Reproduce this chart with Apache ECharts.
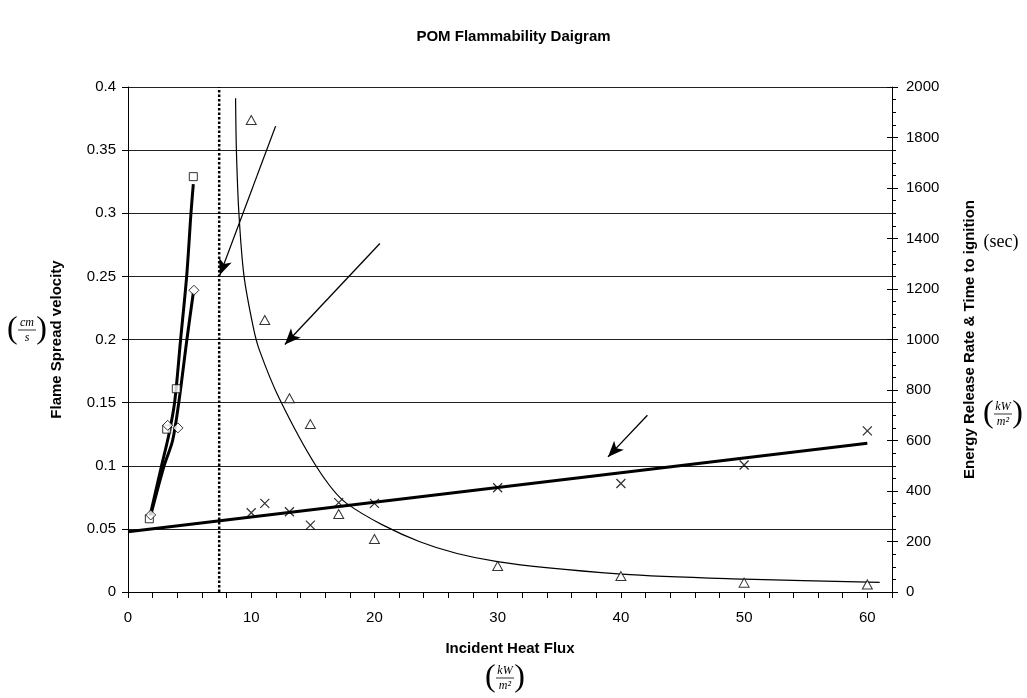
<!DOCTYPE html>
<html>
<head>
<meta charset="utf-8">
<script src="https://cdn.jsdelivr.net/npm/echarts@6/dist/echarts.min.js"></script>
<style>
  html, body { margin: 0; padding: 0; background: #fff; }
  #chart { width: 1027px; height: 698px; }
</style>
</head>
<body>
<div id="chart"></div>
<script>
// flame spread velocity (left axis, cm/s)
var squarePts = [[1.73, 0.058], [3.14, 0.129], [3.92, 0.161], [5.3, 0.329]];
var diamondPts = [[1.84, 0.061], [3.22, 0.132], [4.05, 0.130], [5.35, 0.239]];
var squareTrend = [[1.78, 0.06], [2.7, 0.099], [3.3, 0.124], [3.78, 0.15], [4.27, 0.2], [4.76, 0.25], [5.11, 0.3], [5.3, 0.323]];
var diamondTrend = [[1.85, 0.061], [2.9, 0.099], [3.62, 0.12], [4.12, 0.15], [4.78, 0.2], [5.3, 0.237]];

// energy release rate (right axis, kW/m2)
var hrrPts = [[10, 314], [11.1, 351], [13.1, 318], [14.8, 265], [17.1, 354], [20, 351], [30, 413], [40, 430], [50, 503], [60, 638]];
var hrrTrend = [[0, 239], [60, 589]];

// time to ignition (right axis, sec)
var tigPts = [[10, 1869], [11.1, 1077], [13.1, 767], [14.8, 665], [17.1, 309], [20, 210], [30, 103], [40, 63], [50, 37], [60, 30]];
var tigTrend = [[8.73, 1955], [8.8, 1744], [9.0, 1500], [9.41, 1253], [10.16, 1050], [10.65, 960], [12.27, 767], [15.3, 496],
                [17.74, 351], [23.68, 199], [29.98, 120], [40.06, 71], [50, 51], [61, 38]];

// critical flux (dotted line) and annotation arrows [x1, y1, x2, y2] on left axis
var criticalFlux = 7.4;
var arrows = [[11.98, 0.369, 7.45, 0.251], [20.44, 0.276, 12.73, 0.196], [42.15, 0.140, 38.95, 0.107]];

var xTickLabels = [0, 10, 20, 30, 40, 50, 60];

var myChart = echarts.init(document.getElementById('chart'));

var fontSans = '"Liberation Sans", Arial, sans-serif';
var fontSerif = '"Liberation Serif", "Times New Roman", serif';

function fraction(cx, cy, num, den) {
    return {
        type: 'group',
        x: cx,
        y: cy,
        silent: true,
        children: [
            { type: 'text', style: { text: '(', x: -20, y: 0, font: '32px ' + fontSerif, textAlign: 'left', textVerticalAlign: 'middle', fill: '#000' } },
            { type: 'text', style: { text: num, x: 0, y: -7, font: 'italic 12px ' + fontSerif, textAlign: 'center', textVerticalAlign: 'middle', fill: '#000' } },
            { type: 'line', shape: { x1: -9, y1: 0, x2: 9, y2: 0 }, style: { stroke: '#000', lineWidth: 0.8 } },
            { type: 'text', style: { text: den, x: 0, y: 8, font: 'italic 12px ' + fontSerif, textAlign: 'center', textVerticalAlign: 'middle', fill: '#000' } },
            { type: 'text', style: { text: ')', x: 20, y: 0, font: '32px ' + fontSerif, textAlign: 'right', textVerticalAlign: 'middle', fill: '#000' } }
        ]
    };
}

var hollow = { color: '#fff', borderColor: '#000', borderWidth: 1 };

var option = {
    backgroundColor: '#fff',
    animation: false,
    title: {
        text: 'POM Flammability Daigram',
        left: 'center',
        top: 24,
        textStyle: { fontFamily: fontSans, fontSize: 15, fontWeight: 'bold', color: '#000' }
    },
    grid: { left: 128, right: 135, top: 87, bottom: 106 },
    xAxis: {
        type: 'value',
        min: 0,
        max: 62,
        interval: 2,
        name: 'Incident Heat Flux',
        nameLocation: 'middle',
        nameGap: 49,
        nameTextStyle: { fontFamily: fontSans, fontSize: 15, fontWeight: 'bold', color: '#000' },
        axisLine: { lineStyle: { color: '#000', width: 1 } },
        axisTick: { length: 6, lineStyle: { color: '#000' } },
        axisLabel: {
            margin: 18,
            fontFamily: fontSans, fontSize: 15, color: '#000',
            formatter: function (v) { return xTickLabels.indexOf(v) >= 0 ? String(v) : ''; }
        },
        splitLine: { show: false }
    },
    yAxis: [{
        type: 'value',
        min: 0,
        max: 0.4,
        interval: 0.05,
        name: 'Flame Spread velocity',
        nameLocation: 'middle',
        nameGap: 64,
        nameTextStyle: { fontFamily: fontSans, fontSize: 15, fontWeight: 'bold', color: '#000' },
        axisLine: { show: true, lineStyle: { color: '#000', width: 1 } },
        axisTick: { show: true, length: 6, lineStyle: { color: '#000' } },
        axisLabel: { margin: 12, fontFamily: fontSans, fontSize: 15, color: '#000' },
        splitLine: { show: true, lineStyle: { color: '#222', width: 1 } }
    }, {
        type: 'value',
        min: 0,
        max: 2000,
        interval: 200,
        position: 'right',
        name: 'Energy Release Rate & Time to ignition',
        nameLocation: 'middle',
        nameGap: 70,
        nameRotate: 90,
        nameTextStyle: { fontFamily: fontSans, fontSize: 15, fontWeight: 'bold', color: '#000' },
        axisLine: { show: true, lineStyle: { color: '#000', width: 1 } },
        axisTick: { show: true, length: 6, lineStyle: { color: '#000' } },
        minorTick: { show: true, splitNumber: 4, length: 4, lineStyle: { color: '#000' } },
        axisLabel: {
            margin: 14, fontFamily: fontSans, fontSize: 15, color: '#000',
            formatter: function (v) { return String(v); }
        },
        splitLine: { show: false }
    }, {
        // inner half of the crossing major ticks on the right axis
        type: 'value',
        min: 0,
        max: 2000,
        interval: 200,
        position: 'right',
        axisLine: { show: false },
        axisTick: { show: true, inside: true, length: 5, lineStyle: { color: '#000' } },
        axisLabel: { show: false },
        splitLine: { show: false }
    }],
    graphic: [
        fraction(27, 330, 'cm', 's'),
        fraction(1003, 414, 'kW', 'm²'),
        fraction(505, 678, 'kW', 'm²'),
        { type: 'text', silent: true, style: { text: '(sec)', x: 1001, y: 242, font: '18px ' + fontSerif, textAlign: 'center', textVerticalAlign: 'middle', fill: '#000' } }
    ],
    series: [
        {
            name: 'critical flux',
            type: 'line',
            data: [[criticalFlux, 0], [criticalFlux, 0.4]],
            symbol: 'none',
            lineStyle: { color: '#000', width: 2.5, type: [2.5, 2] },
            z: 3
        },
        {
            name: 'square trend',
            type: 'line',
            data: squareTrend,
            smooth: 0.3,
            symbol: 'none',
            lineStyle: { color: '#000', width: 3 },
            z: 4
        },
        {
            name: 'diamond trend',
            type: 'line',
            data: diamondTrend,
            smooth: 0.3,
            symbol: 'none',
            lineStyle: { color: '#000', width: 3 },
            z: 4,
            markLine: {
                silent: true,
                symbol: ['none', 'arrow'],
                symbolSize: [10, 16],
                label: { show: false },
                lineStyle: { color: '#000', width: 1.3, type: 'solid' },
                emphasis: { disabled: true },
                data: arrows.map(function (a) {
                    return [{ coord: [a[0], a[1]] }, { coord: [a[2], a[3]] }];
                })
            }
        },
        {
            name: 'hrr trend',
            type: 'line',
            yAxisIndex: 1,
            data: hrrTrend,
            symbol: 'none',
            lineStyle: { color: '#000', width: 3 },
            z: 4
        },
        {
            name: 'tig trend',
            type: 'line',
            yAxisIndex: 1,
            data: tigTrend,
            smooth: 0.3,
            symbol: 'none',
            lineStyle: { color: '#000', width: 1.2 },
            z: 4
        },
        {
            name: 'square',
            type: 'scatter',
            data: squarePts,
            symbol: 'rect',
            symbolSize: 8,
            itemStyle: hollow,
            z: 6
        },
        {
            name: 'diamond',
            type: 'scatter',
            data: diamondPts,
            symbol: 'diamond',
            symbolSize: 10,
            itemStyle: hollow,
            z: 6
        },
        {
            name: 'energy release rate',
            type: 'scatter',
            yAxisIndex: 1,
            data: hrrPts,
            symbol: 'path://M0,0L10,10M10,0L0,10',
            symbolSize: 9,
            itemStyle: { color: 'none', borderColor: '#000', borderWidth: 1.3 },
            z: 6
        },
        {
            name: 'time to ignition',
            type: 'scatter',
            yAxisIndex: 1,
            data: tigPts,
            symbol: 'triangle',
            symbolSize: [10, 9],
            itemStyle: hollow,
            z: 6
        }
    ]
};

myChart.setOption(option);
window.addEventListener('resize', function () {
    myChart.resize();
});
</script>
</body>
</html>
